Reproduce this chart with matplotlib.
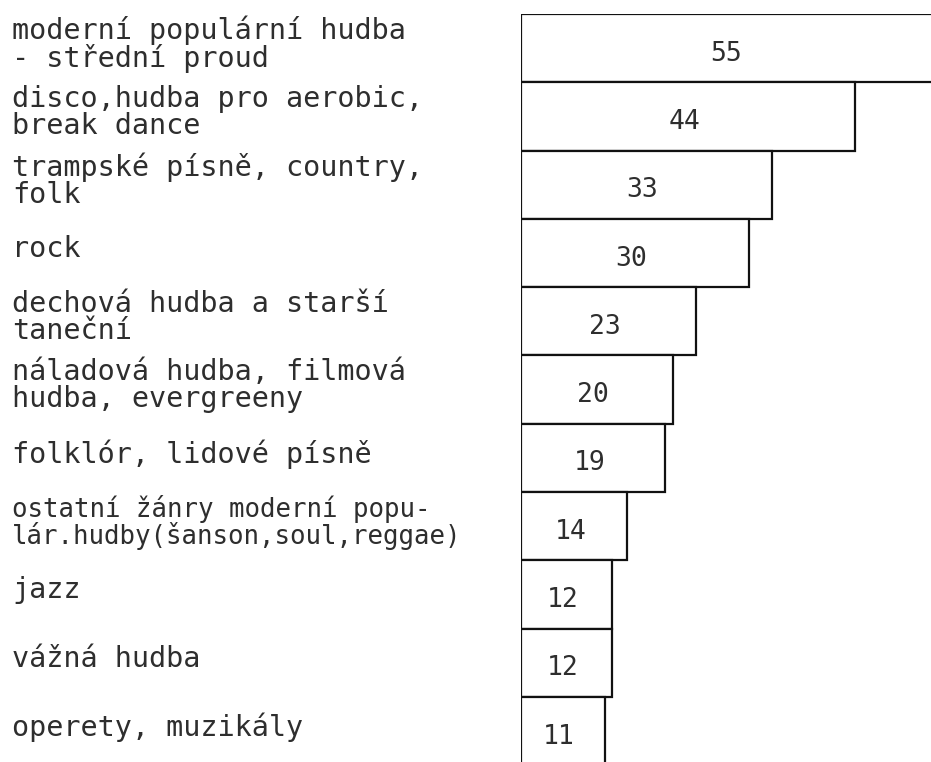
import matplotlib
matplotlib.use("Agg")
import matplotlib.pyplot as plt
from matplotlib.transforms import blended_transform_factory

# zanry a procenta (odshora dolu)
genres = [
    "moderní populární hudba\n- střední proud",
    "disco,hudba pro aerobic,\nbreak dance",
    "trampské písně, country,\nfolk",
    "rock",
    "dechová hudba a starší\ntaneční",
    "náladová hudba, filmová\nhudba, evergreeny",
    "folklór, lidové písně",
    "ostatní žánry moderní popu-\nlár.hudby(šanson,soul,reggae)",
    "jazz",
    "vážná hudba",
    "operety, muzikály",
]
values = [55, 44, 33, 30, 23, 20, 19, 14, 12, 12, 11]

W, H = 931, 762
fig = plt.figure(figsize=(W / 100, H / 100), dpi=100)
fig.patch.set_facecolor("white")

# axes: left edge of bars at x=521px, ~7.6 px per unit, bars 68.3 px tall
px_per_unit = 7.6
bar_px = 68.3
top_px = 14
ax = fig.add_axes([521 / W, (H - top_px - bar_px * len(values)) / H,
                   (W - 521) / W, bar_px * len(values) / H])
ax.set_xlim(0, (W - 521) / px_per_unit)
ax.set_ylim(len(values) - 0.5, -0.5)
ax.axis("off")

ypos = list(range(len(values)))
ax.barh(ypos, values, height=1.0, color="white", edgecolor="#111111",
        linewidth=1.6)

mono = "DejaVu Sans Mono"
txtcol = "#2e2e2e"

for y, v in zip(ypos, values):
    ax.text(v / 2 - 0.5, y + 0.08, str(v), ha="center", va="center",
            fontsize=19, family=mono, color=txtcol)

trans = blended_transform_factory(fig.transFigure, ax.transData)
for y, lab in zip(ypos, genres):
    longest = max(len(s) for s in lab.split("\n"))
    fs = 20.5 if longest <= 25 else 18.5
    ax.text(12 / W, y - 0.06, lab, transform=trans, ha="left", va="center",
            fontsize=fs, family=mono, color=txtcol, linespacing=0.95,
            clip_on=False)

fig.savefig("out.png", dpi=100, facecolor="white")
